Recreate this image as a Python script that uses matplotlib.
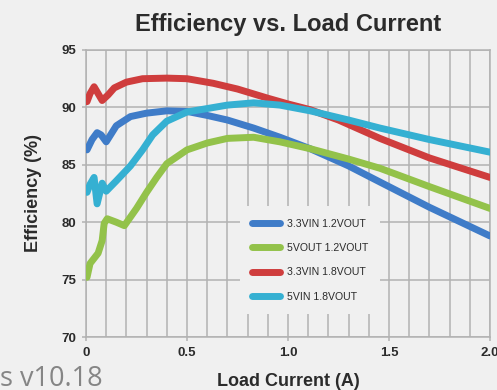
import matplotlib
matplotlib.use("Agg")
import matplotlib.pyplot as plt
from matplotlib.ticker import MultipleLocator, FixedLocator, FixedFormatter

# Efficiency curves (load current in A, efficiency in %)
blue_x = [0.005, 0.03, 0.055, 0.075, 0.1, 0.15, 0.22, 0.3, 0.4, 0.5, 0.6, 0.7, 0.83, 0.96, 1.11, 1.3, 1.455, 1.7, 2.0]
blue_y = [86.3, 87.2, 87.8, 87.6, 87.0, 88.4, 89.2, 89.5, 89.7, 89.65, 89.3, 88.9, 88.2, 87.4, 86.4, 84.9, 83.5, 81.3, 78.8]

green_x = [0.005, 0.02, 0.06, 0.08, 0.09, 0.105, 0.15, 0.19, 0.25, 0.3, 0.35, 0.4, 0.5, 0.6, 0.7, 0.83, 0.96, 1.11, 1.3, 1.455, 1.7, 2.0]
green_y = [75.2, 76.4, 77.3, 78.4, 79.9, 80.3, 80.0, 79.7, 81.2, 82.6, 83.9, 85.1, 86.3, 86.9, 87.3, 87.4, 87.0, 86.4, 85.5, 84.7, 83.1, 81.2]

red_x = [0.005, 0.02, 0.04, 0.06, 0.08, 0.11, 0.14, 0.2, 0.28, 0.4, 0.5, 0.63, 0.75, 0.9, 1.0, 1.11, 1.25, 1.455, 1.7, 2.0]
red_y = [90.5, 91.2, 91.8, 91.2, 90.6, 91.1, 91.7, 92.2, 92.5, 92.55, 92.5, 92.1, 91.6, 90.8, 90.3, 89.8, 88.9, 87.3, 85.6, 83.9]

cyan_x = [0.005, 0.02, 0.04, 0.055, 0.08, 0.1, 0.15, 0.22, 0.28, 0.33, 0.4, 0.5, 0.6, 0.7, 0.83, 0.96, 1.11, 1.3, 1.455, 1.7, 2.0]
cyan_y = [82.6, 83.3, 83.9, 81.6, 83.4, 82.7, 83.6, 84.9, 86.3, 87.6, 88.8, 89.6, 89.9, 90.2, 90.4, 90.2, 89.7, 88.9, 88.2, 87.2, 86.1]

series_labels = ["3.3VIN 1.2VOUT", "5VOUT 1.2VOUT", "3.3VIN 1.8VOUT", "5VIN 1.8VOUT"]
series_colors = ["#3f7cc8", "#93c24a", "#cf3d3d", "#35b0d2"]

x_ticks = [0, 0.5, 1.0, 1.5, 2.0]
x_tick_labels = ["0", "0.5", "1.0", "1.5", "2.0"]
y_ticks = [70, 75, 80, 85, 90, 95]

bg = "#f0f0f0"
grid_color = "#b2b2b2"
text_color = "#2b2b2b"

plt.rcParams["font.family"] = ["Liberation Sans", "DejaVu Sans"]

fig = plt.figure(figsize=(4.97, 3.90), dpi=100, facecolor=bg)
ax = fig.add_axes([86 / 497, 1 - 337 / 390, 404 / 497, 287 / 390])
ax.set_facecolor(bg)

ax.set_xlim(0, 2.0)
ax.set_ylim(70, 95)

ax.xaxis.set_major_locator(FixedLocator(x_ticks))
ax.xaxis.set_major_formatter(FixedFormatter(x_tick_labels))
ax.xaxis.set_minor_locator(MultipleLocator(0.1))
ax.yaxis.set_major_locator(FixedLocator(y_ticks))

ax.grid(True, which="both", axis="x", color=grid_color, lw=1.1, zorder=0)
ax.grid(True, which="major", axis="y", color=grid_color, lw=1.1, zorder=0)
for s in ax.spines.values():
    s.set_color(grid_color)
    s.set_linewidth(1.1)

ax.tick_params(axis="both", which="minor", length=0)
ax.tick_params(axis="both", which="major", length=3, color=grid_color,
               width=1.1, colors=text_color)
ax.tick_params(axis="y", which="major", pad=4)
ax.tick_params(axis="x", which="major", pad=4)
for lab in ax.get_xticklabels() + ax.get_yticklabels():
    lab.set_fontweight("bold")
    lab.set_fontsize(9.5)
    lab.set_color(text_color)

lw = 5
handles = []
for xs, ys, c, lbl in zip([blue_x, green_x, red_x, cyan_x],
                          [blue_y, green_y, red_y, cyan_y],
                          series_colors, series_labels):
    (ln,) = ax.plot(xs, ys, color=c, lw=lw, solid_capstyle="round",
                    solid_joinstyle="round", label=lbl, zorder=3)
    handles.append(ln)

leg = ax.legend(handles=handles, loc="upper left", bbox_to_anchor=(0.382, 0.455),
                fontsize=7.6, frameon=True, facecolor=bg, edgecolor="none",
                framealpha=1.0, fancybox=False, handlelength=2.6,
                handletextpad=0.65, labelspacing=1.37, borderpad=1.15,
                borderaxespad=0)
for t in leg.get_texts():
    t.set_color(text_color)
for h in leg.legend_handles:
    h.set_linewidth(5)
    h.set_solid_capstyle("round")
leg.set_zorder(2)

ax.set_title("Efficiency vs. Load Current", fontsize=17, fontweight="bold",
             color=text_color, pad=14)
ax.set_xlabel("Load Current (A)", fontsize=13, fontweight="bold", color=text_color, labelpad=10)
ax.set_ylabel("Efficiency (%)", fontsize=13, fontweight="bold", color=text_color, labelpad=14)

fig.text(0.0, 4 / 390, "s v10.18", fontsize=19.5, color="#858585",
         family=["Open Sans", "DejaVu Sans"], ha="left", va="baseline")

fig.savefig("out.png", dpi=100, facecolor=bg)
